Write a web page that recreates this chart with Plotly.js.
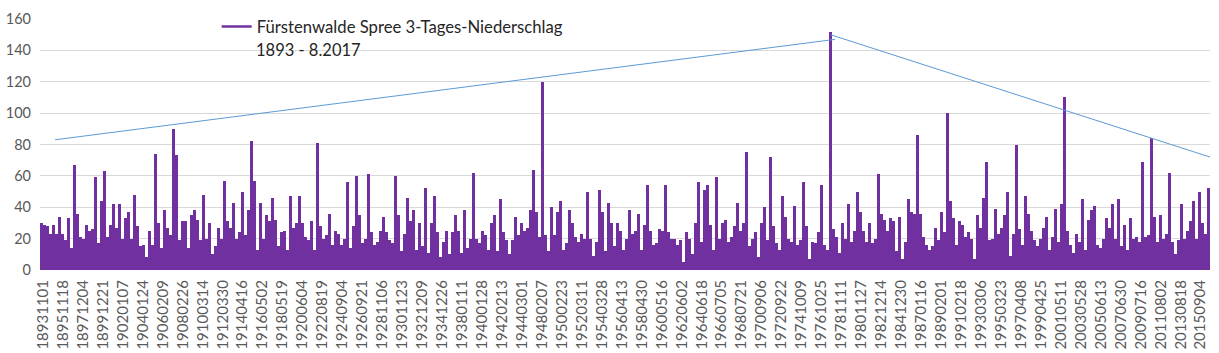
<!DOCTYPE html>
<html>
<head>
<meta charset="utf-8">
<script src="https://cdn.plot.ly/plotly-3.0.1.min.js"></script>
<style>html,body{margin:0;padding:0;background:#fff;}#chart{width:1219px;height:353px;}</style>
</head>
<body>
<div id="chart"></div>
<script>
// Tick labels of the category axis (date of the 3-day period, YYYYMMDD)
const tickLabels = ["18931101","18951118","18971204","18991221","19020107","19040124","19060209","19080226","19100314","19120330","19140416","19160502","19180519","19200604","19220819","19240904","19260921","19281106","19301123","19321209","19341226","19380111","19400128","19420213","19440301","19480207","19500223","19520311","19540328","19560413","19580430","19600516","19620602","19640618","19660705","19680721","19700906","19720922","19741009","19761025","19781111","19801127","19821214","19841230","19870116","19890201","19910218","19930306","19950323","19970408","19990425","20010511","20030528","20050613","20070630","20090716","20110802","20130818","20150904"];

const rain1893 = [30,29,28,23,29,23,34,23,19,33,14,67,36,21,20,29,25,26,59,17,44,63,21,29,42,27,42,20,33,37,20,48,28,15,16,8,25,16,74];
const rain1905 = [30,14,38,27,22,90,73,19,31,31,14,35,38,32,19,48,20,30,10,15,27,20,57,31,27,43,20,24,50,22,38,82,57,13,43,20,35,31,46];
const rain1916 = [32,15,24,25,13,47,27,30,47,30,21,19,31,13,81,28,20,22,36,16,25,23,16,20,56,14,28,60,35,17,20,61,24,16,18,25,34,24,19];
const rain1927 = [17,60,35,12,23,46,31,38,13,30,15,52,11,30,47,24,8,18,25,10,24,35,25,11,38,14,20,62,20,17,25,22,13,30,35,12,45,24,19];
const rain1943 = [10,19,34,22,30,25,27,38,64,37,21,120,22,12,40,22,37,44,13,17,38,30,21,18,23,20,50,20,9,18,51,37,12,43,30,15,30,25,13];
const rain1955 = [20,38,23,25,36,13,29,54,25,16,17,26,25,54,24,20,20,16,19,5,24,20,10,30,56,18,51,54,29,13,59,20,30,32,18,21,28,43,25];
const rain1967 = [30,75,15,20,24,8,30,40,19,72,28,17,13,47,34,20,18,41,16,19,56,28,7,18,17,24,54,16,13,152,26,21,11,30,20,42,18,25,50];
const rain1978 = [37,25,18,30,17,20,61,36,32,25,33,31,12,34,7,18,45,37,36,86,36,21,16,13,15,27,19,37,24,100,44,33,16,31,29,21,24,20,7];
const rain1990 = [35,27,46,69,19,20,39,23,27,35,50,9,23,80,26,16,47,36,25,19,15,20,27,34,13,21,39,18,42,110,25,16,11,23,18,45,13,32,38];
const rain2002 = [41,16,14,20,33,27,42,20,45,15,29,13,33,20,21,18,69,21,22,84,34,18,35,20,23,62,18,10,19,42,20,25,31,44,20,50,30,23,52];

// Hand-drawn blue guide lines (start value, peak value, end value)
const trendLeftY = [83, 147];
const trendRightY = [150, 72];

const rain = [].concat(rain1893, rain1905, rain1916, rain1927, rain1943, rain1955, rain1967, rain1978, rain1990, rain2002);
const xIdx = rain.map((_, i) => i);
const n = rain.length;

// position of the category labels along the sample axis
const LABEL_OFFSET = 0.5, LABEL_SPACING = 6.653;
const tickVals = tickLabels.map((_, j) => LABEL_OFFSET + j * LABEL_SPACING);

const peakIdx = rain.indexOf(Math.max(...rain));
const trendX = [4.5, peakIdx + 1.5, null, peakIdx, n - 0.5];
const trendY = [trendLeftY[0], trendLeftY[1], null, trendRightY[0], trendRightY[1]];

const purple = '#7030A0';
const font = 'Lato, "Open Sans", sans-serif';

const traces = [
  {type: 'bar', x: xIdx, y: rain, marker: {color: purple, line: {width: 0}}, showlegend: false, hoverinfo: 'skip'},
  {type: 'scatter', mode: 'lines', x: trendX, y: trendY, line: {color: '#5B9BD5', width: 1}, showlegend: false, hoverinfo: 'skip'},
  {type: 'scatter', mode: 'lines', x: [null], y: [null], name: 'Fürstenwalde Spree 3-Tages-Niederschlag', line: {color: purple, width: 2.5}, showlegend: true, hoverinfo: 'skip'}
];

const layout = {
  width: 1219, height: 353,
  margin: {l: 40, r: 9, t: 14, b: 83, pad: 0},
  paper_bgcolor: '#ffffff', plot_bgcolor: '#ffffff',
  font: {family: font, color: '#595959', size: 14},
  bargap: 0,
  showlegend: true,
  legend: {x: 0.151, y: 0.97, xanchor: 'left', yanchor: 'middle', bgcolor: 'rgba(0,0,0,0)', font: {family: font, size: 16.7, color: '#262626'}},
  xaxis: {
    range: [-0.5, n - 0.5], tickmode: 'array', tickvals: tickVals, ticktext: tickLabels,
    tickangle: -90, tickfont: {family: font, size: 15, color: '#595959'},
    showgrid: false, zeroline: false, showline: false, ticks: '', ticklabelstandoff: 6, fixedrange: true
  },
  yaxis: {
    range: [0, 160], dtick: 20, tick0: 0, gridcolor: '#D9D9D9', gridwidth: 1,
    tickfont: {family: font, size: 14.5, color: '#595959'}, zeroline: false, showline: false, ticks: '', ticklabelstandoff: 8, fixedrange: true
  },
  annotations: [
    {text: '1893 - 8.2017', xref: 'paper', yref: 'paper', x: 0.1829, y: 0.877, xanchor: 'left', yanchor: 'middle', showarrow: false, font: {family: font, size: 16.5, color: '#262626'}}
  ]
};

Plotly.newPlot('chart', traces, layout, {displayModeBar: false, staticPlot: true});
</script>
</body>
</html>
